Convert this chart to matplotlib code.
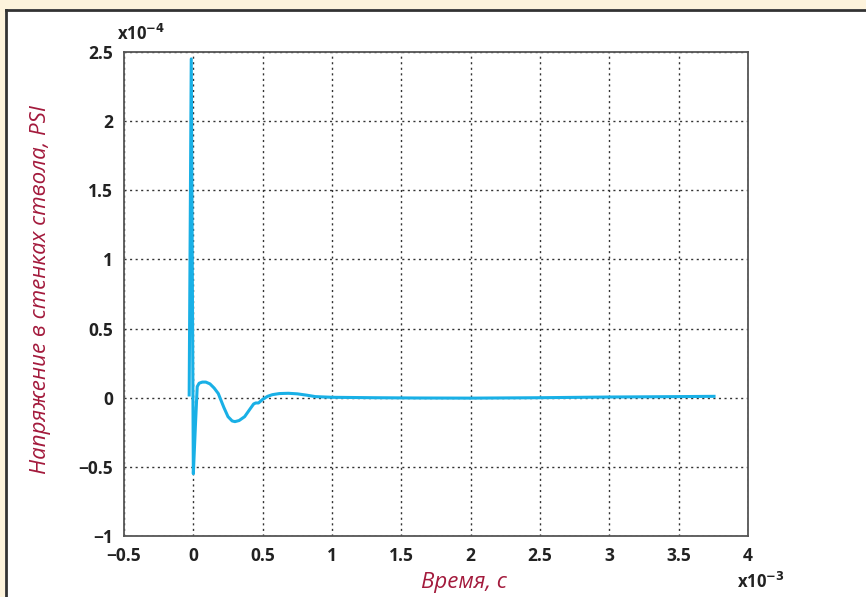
import numpy as np
import matplotlib.pyplot as plt
from matplotlib.patches import Rectangle

# time, x1e-3 s
t = [-0.030, -0.015, 0.000, 0.015, 0.028, 0.042, 0.065, 0.090, 0.120, 0.150,
     0.180, 0.220, 0.250, 0.280, 0.300, 0.330, 0.370, 0.410, 0.435, 0.450,
     0.470, 0.500, 0.535, 0.570, 0.620, 0.685, 0.750, 0.820, 0.880, 1.000,
     1.300, 1.600, 2.000, 2.500, 3.000, 3.500, 3.755]
# stress, x1e-4 PSI
v = [0.02, 2.45, -0.55, -0.20, 0.08, 0.105, 0.113, 0.113, 0.100, 0.070,
     0.030, -0.070, -0.137, -0.168, -0.173, -0.165, -0.137, -0.080, -0.045, -0.038,
     -0.038, -0.012, 0.010, 0.022, 0.030, 0.032, 0.028, 0.018, 0.008, 0.003,
     0.000, -0.002, -0.003, 0.000, 0.005, 0.008, 0.010]

xticks = [-0.5, 0, 0.5, 1, 1.5, 2, 2.5, 3, 3.5, 4]
yticks = [-1, -0.5, 0, 0.5, 1, 1.5, 2, 2.5]

plt.rcParams['font.family'] = ['Open Sans', 'DejaVu Sans']
red = '#a31a3c'

fig = plt.figure(figsize=(8.66, 5.97), dpi=100)
fig.patches.append(Rectangle((0, 1 - 9 / 597), 1, 9 / 597, transform=fig.transFigure,
                             facecolor='#fdf3dc', edgecolor='none'))
fig.patches.append(Rectangle((0, 0), 5 / 866, 1, transform=fig.transFigure,
                             facecolor='#fdf3dc', edgecolor='none'))
fig.lines.append(plt.Line2D([6 / 866, 1], [1 - 9.5 / 597, 1 - 9.5 / 597], transform=fig.transFigure,
                            color='#333333', lw=2))
fig.lines.append(plt.Line2D([6 / 866, 6 / 866], [0, 1 - 9.5 / 597], transform=fig.transFigure,
                            color='#333333', lw=2))

ax = fig.add_axes([124 / 866, 1 - 536 / 597, 624 / 866, 484 / 597])
ax.plot(t, v, color='#19b0e6', lw=2.2)
ax.set_xlim(-0.5, 4)
ax.set_ylim(-1, 2.5)
ax.set_xticks(xticks)
ax.set_yticks(yticks)
ax.set_xticklabels(['\u22120.5', '0', '0.5', '1', '1.5', '2', '2.5', '3', '3.5', '4'])
ax.set_yticklabels(['\u22121', '\u22120.5', '0', '0.5', '1', '1.5', '2', '2.5'])
ax.tick_params(length=0, labelsize=12.5, colors='#222222', pad=8)
for lab in ax.get_xticklabels() + ax.get_yticklabels():
    lab.set_fontweight('bold')
ax.grid(True, color='#333333', linestyle=(0, (1.5, 2.5)), lw=1)
for s in ax.spines.values():
    s.set_color('#555555')
    s.set_linewidth(1.3)

ax.set_xlabel('Время, c', color=red, fontsize=16, style='italic')
ax.set_ylabel('Напряжение в стенках ствола, PSI', color=red, fontsize=16, style='italic')
ax.xaxis.set_label_coords(0.545, -0.075)
ax.yaxis.set_label_coords(-0.117, 0.51)

fig.text(117 / 866, 1 - 40 / 597, r'x10$^{\mathbf{-4}}$', fontsize=12, fontweight='bold', color='#222222')
fig.text(737 / 866, 1 - 588 / 597, r'x10$^{\mathbf{-3}}$', fontsize=12, fontweight='bold', color='#222222')

fig.savefig('out.png', dpi=100)
